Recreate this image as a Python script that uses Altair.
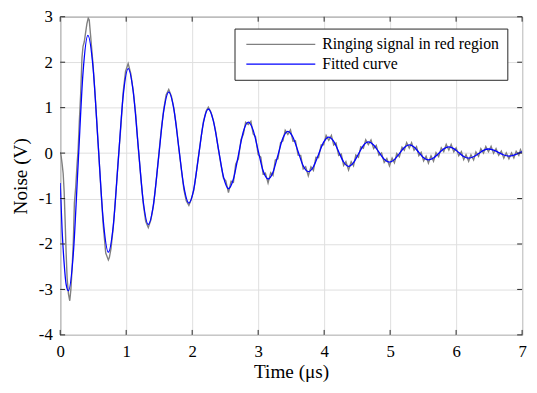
import altair as alt
import pandas as pd

# Fitted curve (blue)
fit_t = [0.0, 0.03, 0.06, 0.09, 0.125, 0.199, 0.2725, 0.346, 0.42, 0.4975, 0.575, 0.6525,
         0.73, 0.805, 0.88, 0.955, 1.03, 1.106, 1.1825, 1.259, 1.335, 1.4125, 1.49, 1.5675,
         1.645, 1.721, 1.7975, 1.874, 1.95, 2.024, 2.0975, 2.171, 2.245, 2.321, 2.3975, 2.474,
         2.55, 2.625, 2.70, 2.775, 2.85, 2.925, 3.0, 3.075, 3.15, 3.225, 3.30, 3.375,
         3.45, 3.5275, 3.605, 3.6825, 3.76, 3.8375, 3.915, 3.9925, 4.07, 4.145, 4.22, 4.295,
         4.37, 4.445, 4.52, 4.595, 4.67, 4.75, 4.83, 4.91, 4.99, 5.065, 5.14, 5.215,
         5.29, 5.3625, 5.435, 5.5075, 5.58, 5.6575, 5.735, 5.8125, 5.89, 5.965, 6.04, 6.115,
         6.19, 6.265, 6.34, 6.415, 6.49, 6.5675, 6.645, 6.7225, 6.80, 6.875, 6.95, 7.0]
fit_v = [-0.66, -1.73, -2.43, -2.89, -3.03, -2.21, -0.22, 1.77, 2.59, 1.89, 0.205, -1.48,
         -2.18, -1.59, -0.16, 1.27, 1.86, 1.36, 0.145, -1.07, -1.57, -1.14, -0.115, 0.91,
         1.34, 0.98, 0.12, -0.74, -1.10, -0.80, -0.065, 0.67, 0.97, 0.71, 0.095, -0.52,
         -0.78, -0.57, -0.05, 0.47, 0.68, 0.50, 0.055, -0.39, -0.57, -0.42, -0.045, 0.33,
         0.48, 0.35, 0.035, -0.28, -0.41, -0.30, -0.03, 0.24, 0.35, 0.256, 0.03, -0.196,
         -0.29, -0.21, -0.02, 0.167, 0.245, 0.18, 0.02, -0.135, -0.20, -0.144, -0.01, 0.124,
         0.18, 0.132, 0.015, -0.102, -0.15, -0.108, -0.008, 0.093, 0.135, 0.099, 0.012, -0.074,
         -0.11, -0.081, -0.01, 0.061, 0.09, 0.067, 0.012, -0.042, -0.065, -0.045, 0.0, 0.03]

sig_t = [0.0, 0.015, 0.03, 0.045, 0.06, 0.075, 0.09, 0.105, 0.125, 0.145, 0.162, 0.18,
         0.199, 0.215, 0.235, 0.255, 0.2725, 0.29, 0.31, 0.33, 0.346, 0.365, 0.385, 0.405,
         0.425, 0.44, 0.46, 0.4975, 0.535, 0.575, 0.615, 0.6525, 0.69, 0.73, 0.745, 0.77,
         0.805, 0.84, 0.88, 0.92, 0.955, 0.99, 1.03, 1.07, 1.106, 1.145, 1.1825, 1.22,
         1.259, 1.295, 1.335, 1.375, 1.4125, 1.45, 1.49, 1.53, 1.5675, 1.605, 1.645, 1.685,
         1.721, 1.76, 1.7975, 1.835, 1.874, 1.91, 1.95, 1.985, 2.024, 2.06, 2.0975, 2.135,
         2.171, 2.21, 2.245, 2.285, 2.321, 2.36, 2.3975, 2.435, 2.474, 2.51, 2.55, 2.59,
         2.625, 2.66, 2.70, 2.74, 2.775, 2.81, 2.85, 2.89, 2.925, 2.96, 3.0, 3.04,
         3.075, 3.11, 3.15, 3.19, 3.225, 3.26, 3.30, 3.34, 3.375, 3.41, 3.45, 3.49,
         3.5275, 3.565, 3.605, 3.645, 3.6825, 3.72, 3.76, 3.80, 3.8375, 3.875, 3.915, 3.955,
         3.9925, 4.03, 4.07, 4.11, 4.145, 4.18, 4.22, 4.26, 4.295, 4.33, 4.37, 4.41,
         4.445, 4.48, 4.52, 4.555, 4.595, 4.63, 4.67, 4.71, 4.75, 4.79, 4.83, 4.87,
         4.91, 4.95, 4.99, 5.03, 5.065, 5.10, 5.14, 5.18, 5.215, 5.25, 5.29, 5.325,
         5.3625, 5.40, 5.435, 5.47, 5.5075, 5.545, 5.58, 5.62, 5.6575, 5.695, 5.735, 5.775,
         5.8125, 5.85, 5.89, 5.925, 5.965, 6.0, 6.04, 6.08, 6.115, 6.15, 6.19, 6.225,
         6.265, 6.30, 6.34, 6.375, 6.415, 6.45, 6.49, 6.53, 6.5675, 6.605, 6.645, 6.685,
         6.7225, 6.76, 6.80, 6.84, 6.875, 6.91, 6.95, 6.975, 7.0]
sig_v = [0.02, -0.08, -0.25, -0.45, -0.85, -1.5, -2.2, -2.75, -3.1, -3.25, -3.0, -2.55,
         -1.95, -1.1, -0.75, -0.25, 0.1, 0.7, 1.3, 2.1, 2.35, 2.45, 2.65, 2.85,
         2.97, 2.93, 2.6, 1.95, 1.15, 0.2, -0.75, -1.6, -2.2, -2.35, -2.3, -2.1,
         -1.62, -0.95, -0.15, 0.6, 1.35, 1.8, 1.97, 1.75, 1.38, 0.85, 0.12, -0.5,
         -1.12, -1.5, -1.64, -1.47, -1.16, -0.68, -0.1, 0.5, 0.95, 1.28, 1.40, 1.25,
         1.0, 0.6, 0.1, -0.35, -0.8, -1.05, -1.15, -1.02, -0.82, -0.45, -0.05, 0.35,
         0.7, 0.92, 1.01, 0.9, 0.72, 0.45, 0.08, -0.25, -0.55, -0.61, -0.87, -0.62,
         -0.64, -0.24, -0.13, 0.30, 0.41, 0.68, 0.63, 0.70, 0.42, 0.36, -0.035, -0.09,
         -0.46, -0.44, -0.66, -0.43, -0.49, -0.15, -0.125, 0.23, 0.27, 0.50, 0.41, 0.51,
         0.26, 0.27, -0.045, -0.05, -0.35, -0.30, -0.50, -0.30, -0.38, -0.09, -0.10, 0.18,
         0.18, 0.39, 0.28, 0.39, 0.176, 0.22, -0.05, -0.02, -0.27, -0.19, -0.37, -0.19,
         -0.28, -0.04, -0.09, 0.14, 0.107, 0.29, 0.185, 0.29, 0.10, 0.17, -0.05, 0.0,
         -0.205, -0.12, -0.28, -0.11, -0.214, -0.01, -0.08, 0.13, 0.064, 0.23, 0.11, 0.23,
         0.062, 0.14, -0.055, 0.015, -0.172, -0.07, -0.22, -0.06, -0.178, 0.01, -0.078, 0.115,
         0.033, 0.19, 0.065, 0.19, 0.029, 0.116, -0.058, 0.03, -0.144, -0.035, -0.18, -0.036,
         -0.151, 0.025, -0.07, 0.095, 0.001, 0.145, 0.03, 0.15, -0.003, 0.10, -0.048, 0.045,
         -0.112, 0.006, -0.125, 0.005, -0.105, 0.04, -0.05, 0.075, 0.0]

series_names = ["Ringing signal in red region", "Fitted curve"]
series_colors = ["#808080", "#0000ff"]
x_ticks = [0, 1, 2, 3, 4, 5, 6, 7]
y_ticks = [-4, -3, -2, -1, 0, 1, 2, 3]

W, H = 469, 323
FONT = "Liberation Serif"
AX = "#262626"

sig_df = pd.DataFrame({"t": sig_t, "v": sig_v, "series": series_names[0]})
fit_df = pd.DataFrame({"t": fit_t, "v": fit_v, "series": series_names[1]})
xt_df = pd.DataFrame({"t": x_ticks})
yt_df = pd.DataFrame({"v": y_ticks})

xscale = alt.Scale(domain=[0, 7], nice=False, zero=False)
yscale = alt.Scale(domain=[-4, 3], nice=False, zero=False)
color = alt.Color("series:N",
                  scale=alt.Scale(domain=series_names, range=series_colors),
                  legend=alt.Legend(title=None, orient="none", legendX=177, legendY=12,
                                    symbolType="M-5,0H5", symbolSize=196,
                                    symbolOffset=31,
                                    symbolStrokeWidth=1.3, labelFont=FONT,
                                    labelFontSize=16, labelColor="#000000",
                                    labelOffset=34, padding=8, rowPadding=4,
                                    strokeColor=AX, fillColor="#ffffff",
                                    cornerRadius=0, labelLimit=400))

xaxis = alt.Axis(values=x_ticks, title="Time (μs)", tickSize=0, domain=False,
                 labelFlush=False,
                 labelPadding=9, titlePadding=3, labelExpr="datum.value + ''")
yaxis = alt.Axis(values=y_ticks, title="Noise (V)", tickSize=0, domain=False,
                 labelFlush=False,
                 labelPadding=8, titlePadding=8, labelExpr="datum.value + ''")

gray = alt.Chart(sig_df).mark_line(strokeWidth=1.4, clip=True).encode(
    x=alt.X("t:Q", scale=xscale, axis=xaxis),
    y=alt.Y("v:Q", scale=yscale, axis=yaxis),
    color=color,
)
blue = alt.Chart(fit_df).mark_line(strokeWidth=1.3, interpolate="monotone", clip=True).encode(
    x=alt.X("t:Q", scale=xscale),
    y=alt.Y("v:Q", scale=yscale),
    color=color,
)

tick_len = 5
xt_bottom = alt.Chart(xt_df).mark_rule(color=AX, strokeWidth=1).encode(
    x=alt.X("t:Q", scale=xscale), y=alt.value(H), y2=alt.value(H - tick_len))
xt_top = alt.Chart(xt_df).mark_rule(color=AX, strokeWidth=1).encode(
    x=alt.X("t:Q", scale=xscale), y=alt.value(0), y2=alt.value(tick_len))
yt_left = alt.Chart(yt_df).mark_rule(color=AX, strokeWidth=1).encode(
    y=alt.Y("v:Q", scale=yscale), x=alt.value(0), x2=alt.value(tick_len))
yt_right = alt.Chart(yt_df).mark_rule(color=AX, strokeWidth=1).encode(
    y=alt.Y("v:Q", scale=yscale), x=alt.value(W), x2=alt.value(W - tick_len))

chart = alt.layer(gray, blue, xt_bottom, xt_top, yt_left, yt_right).properties(
    width=W, height=H,
    background="#ffffff",
    autosize=alt.AutoSizeParams(type="none"),
    padding={"left": 53, "top": 6, "right": 7, "bottom": 48},
).configure_view(
    stroke=AX, strokeWidth=1
).configure_axis(
    grid=True, gridColor="#dedede", gridWidth=1,
    labelFont=FONT, labelFontSize=17, labelColor="#000000",
    titleFont=FONT, titleFontSize=19.5, titleFontWeight="normal", titleColor="#000000",
)

chart.save("out.html", embed_options={"renderer": "svg", "actions": False})
